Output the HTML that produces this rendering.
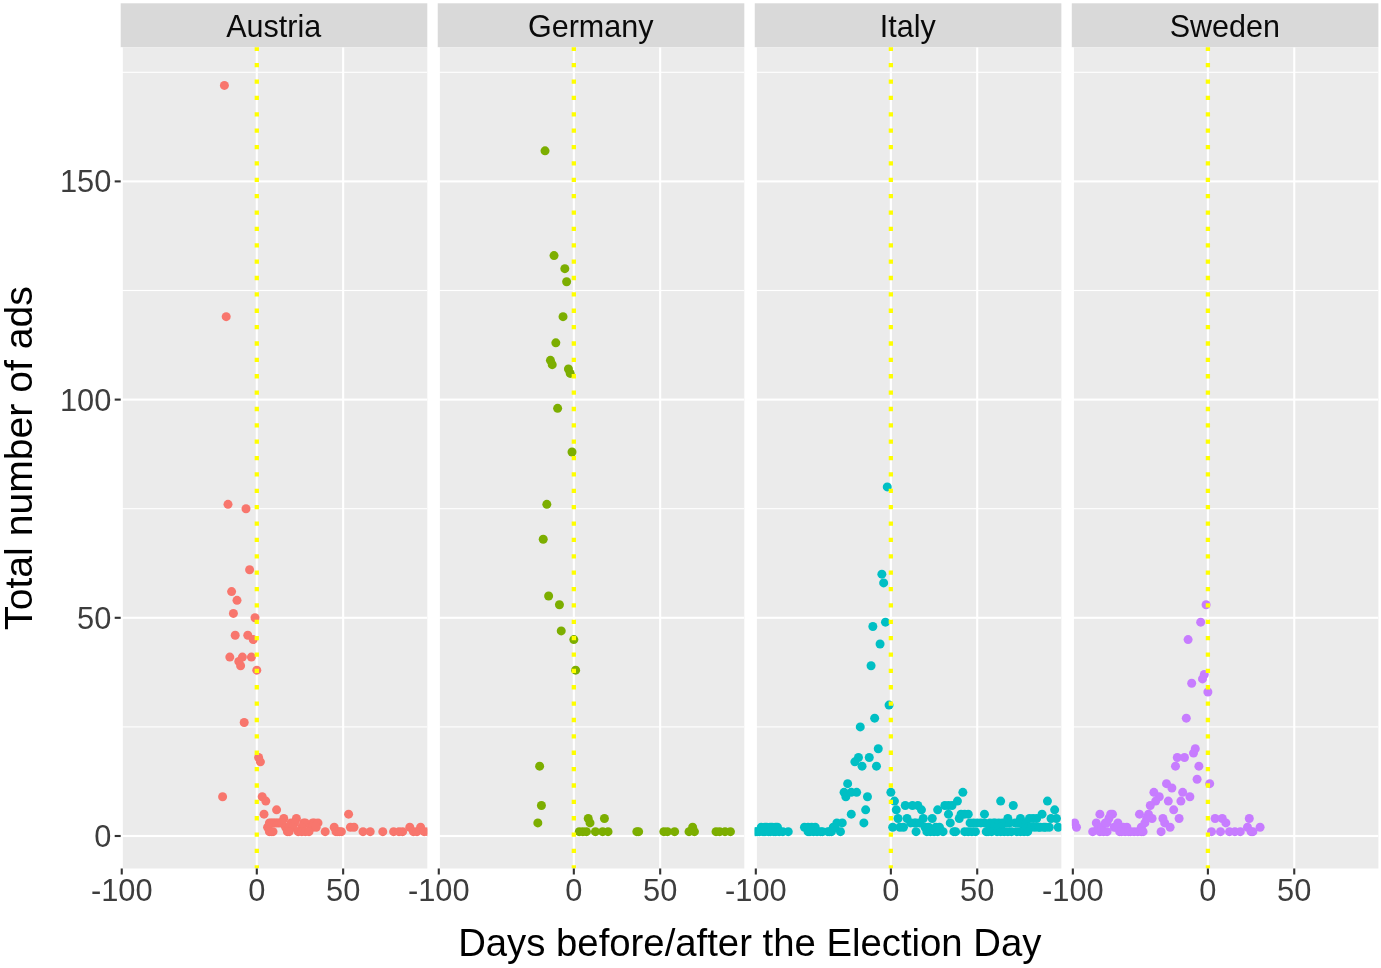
<!DOCTYPE html>
<html lang="en"><head><meta charset="utf-8"><title>Ads by days before/after the Election Day</title>
<style>html,body{margin:0;padding:0;background:#fff}body{width:1381px;height:968px;overflow:hidden}</style></head>
<body>
<svg width="1381" height="968" viewBox="0 0 1381 968" style="display:block">
<rect width="1381" height="968" fill="#fff"/>
<defs>
<clipPath id="c0"><rect x="120.70" y="47.3" width="306.6" height="821.20"/></clipPath>
<clipPath id="c1"><rect x="437.73" y="47.3" width="306.6" height="821.20"/></clipPath>
<clipPath id="c2"><rect x="754.76" y="47.3" width="306.6" height="821.20"/></clipPath>
<clipPath id="c3"><rect x="1071.79" y="47.3" width="306.6" height="821.20"/></clipPath>
</defs>
<rect x="120.70" y="3.3" width="306.6" height="44.00" fill="#D9D9D9"/>
<rect x="122.20" y="47.3" width="305.1" height="821.20" fill="#EBEBEB"/>
<g clip-path="url(#c0)">
<rect x="120.70" y="726.35" width="306.6" height="1.1" fill="#fff"/>
<rect x="120.70" y="508.15" width="306.6" height="1.1" fill="#fff"/>
<rect x="120.70" y="289.95" width="306.6" height="1.1" fill="#fff"/>
<rect x="120.70" y="71.75" width="306.6" height="1.1" fill="#fff"/>
<rect x="120.70" y="834.95" width="306.6" height="2.1" fill="#fff"/>
<rect x="120.70" y="616.75" width="306.6" height="2.1" fill="#fff"/>
<rect x="120.70" y="398.55" width="306.6" height="2.1" fill="#fff"/>
<rect x="120.70" y="180.35" width="306.6" height="2.1" fill="#fff"/>
<rect x="120.70" y="47.3" width="2.1" height="821.20" fill="#fff"/>
<rect x="255.75" y="47.3" width="2.1" height="821.20" fill="#fff"/>
<rect x="342.10" y="47.3" width="2.1" height="821.20" fill="#fff"/>
<g fill="#F8766D">
<circle cx="224.40" cy="85.39" r="4.5"/>
<circle cx="226.20" cy="316.68" r="4.5"/>
<circle cx="228.00" cy="504.34" r="4.5"/>
<circle cx="246.00" cy="508.70" r="4.5"/>
<circle cx="249.60" cy="569.80" r="4.5"/>
<circle cx="231.60" cy="591.62" r="4.5"/>
<circle cx="237.00" cy="600.34" r="4.5"/>
<circle cx="233.40" cy="613.44" r="4.5"/>
<circle cx="255.00" cy="617.80" r="4.5"/>
<circle cx="235.20" cy="635.26" r="4.5"/>
<circle cx="247.80" cy="635.26" r="4.5"/>
<circle cx="253.20" cy="639.62" r="4.5"/>
<circle cx="229.80" cy="657.08" r="4.5"/>
<circle cx="242.40" cy="657.08" r="4.5"/>
<circle cx="251.40" cy="657.08" r="4.5"/>
<circle cx="238.80" cy="661.44" r="4.5"/>
<circle cx="240.60" cy="665.80" r="4.5"/>
<circle cx="256.80" cy="670.17" r="4.5"/>
<circle cx="244.20" cy="722.54" r="4.5"/>
<circle cx="258.60" cy="757.45" r="4.5"/>
<circle cx="260.40" cy="761.81" r="4.5"/>
<circle cx="222.60" cy="796.72" r="4.5"/>
<circle cx="262.20" cy="796.72" r="4.5"/>
<circle cx="265.80" cy="801.09" r="4.5"/>
<circle cx="276.60" cy="809.82" r="4.5"/>
<circle cx="264.00" cy="814.18" r="4.5"/>
<circle cx="348.60" cy="814.18" r="4.5"/>
<circle cx="283.80" cy="818.54" r="4.5"/>
<circle cx="296.40" cy="818.54" r="4.5"/>
<circle cx="269.40" cy="822.91" r="4.5"/>
<circle cx="271.20" cy="822.91" r="4.5"/>
<circle cx="273.00" cy="822.91" r="4.5"/>
<circle cx="274.80" cy="822.91" r="4.5"/>
<circle cx="276.60" cy="822.91" r="4.5"/>
<circle cx="278.40" cy="822.91" r="4.5"/>
<circle cx="280.20" cy="822.91" r="4.5"/>
<circle cx="282.00" cy="822.91" r="4.5"/>
<circle cx="291.00" cy="822.91" r="4.5"/>
<circle cx="294.60" cy="822.91" r="4.5"/>
<circle cx="303.60" cy="822.91" r="4.5"/>
<circle cx="305.40" cy="822.91" r="4.5"/>
<circle cx="312.60" cy="822.91" r="4.5"/>
<circle cx="314.40" cy="822.91" r="4.5"/>
<circle cx="318.00" cy="822.91" r="4.5"/>
<circle cx="267.60" cy="827.27" r="4.5"/>
<circle cx="285.60" cy="827.27" r="4.5"/>
<circle cx="289.20" cy="827.27" r="4.5"/>
<circle cx="292.80" cy="827.27" r="4.5"/>
<circle cx="301.80" cy="827.27" r="4.5"/>
<circle cx="310.80" cy="827.27" r="4.5"/>
<circle cx="312.60" cy="827.27" r="4.5"/>
<circle cx="316.20" cy="827.27" r="4.5"/>
<circle cx="334.20" cy="827.27" r="4.5"/>
<circle cx="350.40" cy="827.27" r="4.5"/>
<circle cx="354.00" cy="827.27" r="4.5"/>
<circle cx="409.80" cy="827.27" r="4.5"/>
<circle cx="420.60" cy="827.27" r="4.5"/>
<circle cx="269.40" cy="831.64" r="4.5"/>
<circle cx="271.20" cy="831.64" r="4.5"/>
<circle cx="273.00" cy="831.64" r="4.5"/>
<circle cx="287.40" cy="831.64" r="4.5"/>
<circle cx="289.20" cy="831.64" r="4.5"/>
<circle cx="298.20" cy="831.64" r="4.5"/>
<circle cx="301.80" cy="831.64" r="4.5"/>
<circle cx="305.40" cy="831.64" r="4.5"/>
<circle cx="309.00" cy="831.64" r="4.5"/>
<circle cx="325.20" cy="831.64" r="4.5"/>
<circle cx="336.00" cy="831.64" r="4.5"/>
<circle cx="337.80" cy="831.64" r="4.5"/>
<circle cx="339.60" cy="831.64" r="4.5"/>
<circle cx="341.40" cy="831.64" r="4.5"/>
<circle cx="363.00" cy="831.64" r="4.5"/>
<circle cx="370.20" cy="831.64" r="4.5"/>
<circle cx="382.80" cy="831.64" r="4.5"/>
<circle cx="393.60" cy="831.64" r="4.5"/>
<circle cx="399.00" cy="831.64" r="4.5"/>
<circle cx="402.60" cy="831.64" r="4.5"/>
<circle cx="413.40" cy="831.64" r="4.5"/>
<circle cx="417.00" cy="831.64" r="4.5"/>
<circle cx="424.20" cy="831.64" r="4.5"/>
<circle cx="427.80" cy="831.64" r="4.5"/>
</g>
<line x1="256.80" y1="46.69" x2="256.80" y2="868.5" stroke="#FFFF00" stroke-width="4.3" stroke-dasharray="4.3 12.07"/>
</g>
<text x="273.70" y="36.8" text-anchor="middle" font-size="30.5" fill="#0a0a0a" font-family="Liberation Sans, Arial, Helvetica, sans-serif">Austria</text>
<rect x="120.70" y="868.5" width="2.1" height="6" fill="#333"/>
<text transform="translate(121.75,901) scale(1,1.026)" text-anchor="middle" font-size="30.8" fill="#3d3d3d" font-family="Liberation Sans, Arial, Helvetica, sans-serif">-100</text>
<rect x="255.75" y="868.5" width="2.1" height="6" fill="#333"/>
<text transform="translate(256.80,901) scale(1,1.026)" text-anchor="middle" font-size="30.8" fill="#3d3d3d" font-family="Liberation Sans, Arial, Helvetica, sans-serif">0</text>
<rect x="342.10" y="868.5" width="2.1" height="6" fill="#333"/>
<text transform="translate(343.15,901) scale(1,1.026)" text-anchor="middle" font-size="30.8" fill="#3d3d3d" font-family="Liberation Sans, Arial, Helvetica, sans-serif">50</text>
<rect x="437.73" y="3.3" width="306.6" height="44.00" fill="#D9D9D9"/>
<rect x="439.23" y="47.3" width="305.1" height="821.20" fill="#EBEBEB"/>
<g clip-path="url(#c1)">
<rect x="437.73" y="726.35" width="306.6" height="1.1" fill="#fff"/>
<rect x="437.73" y="508.15" width="306.6" height="1.1" fill="#fff"/>
<rect x="437.73" y="289.95" width="306.6" height="1.1" fill="#fff"/>
<rect x="437.73" y="71.75" width="306.6" height="1.1" fill="#fff"/>
<rect x="437.73" y="834.95" width="306.6" height="2.1" fill="#fff"/>
<rect x="437.73" y="616.75" width="306.6" height="2.1" fill="#fff"/>
<rect x="437.73" y="398.55" width="306.6" height="2.1" fill="#fff"/>
<rect x="437.73" y="180.35" width="306.6" height="2.1" fill="#fff"/>
<rect x="437.73" y="47.3" width="2.1" height="821.20" fill="#fff"/>
<rect x="572.78" y="47.3" width="2.1" height="821.20" fill="#fff"/>
<rect x="659.13" y="47.3" width="2.1" height="821.20" fill="#fff"/>
<g fill="#7CAE00">
<circle cx="545.03" cy="150.85" r="4.5"/>
<circle cx="554.03" cy="255.59" r="4.5"/>
<circle cx="564.83" cy="268.68" r="4.5"/>
<circle cx="566.63" cy="281.77" r="4.5"/>
<circle cx="563.03" cy="316.68" r="4.5"/>
<circle cx="555.83" cy="342.87" r="4.5"/>
<circle cx="550.43" cy="360.32" r="4.5"/>
<circle cx="552.23" cy="364.69" r="4.5"/>
<circle cx="568.43" cy="369.05" r="4.5"/>
<circle cx="570.23" cy="373.42" r="4.5"/>
<circle cx="557.63" cy="408.33" r="4.5"/>
<circle cx="572.03" cy="451.97" r="4.5"/>
<circle cx="546.83" cy="504.34" r="4.5"/>
<circle cx="543.23" cy="539.25" r="4.5"/>
<circle cx="548.63" cy="595.98" r="4.5"/>
<circle cx="559.43" cy="604.71" r="4.5"/>
<circle cx="561.23" cy="630.89" r="4.5"/>
<circle cx="573.83" cy="639.62" r="4.5"/>
<circle cx="575.63" cy="670.17" r="4.5"/>
<circle cx="539.63" cy="766.18" r="4.5"/>
<circle cx="541.43" cy="805.45" r="4.5"/>
<circle cx="537.83" cy="822.91" r="4.5"/>
<circle cx="588.23" cy="818.54" r="4.5"/>
<circle cx="590.03" cy="822.91" r="4.5"/>
<circle cx="604.43" cy="818.54" r="4.5"/>
<circle cx="692.63" cy="827.27" r="4.5"/>
<circle cx="579.23" cy="831.64" r="4.5"/>
<circle cx="582.83" cy="831.64" r="4.5"/>
<circle cx="586.43" cy="831.64" r="4.5"/>
<circle cx="595.43" cy="831.64" r="4.5"/>
<circle cx="602.63" cy="831.64" r="4.5"/>
<circle cx="608.03" cy="831.64" r="4.5"/>
<circle cx="636.83" cy="831.64" r="4.5"/>
<circle cx="638.63" cy="831.64" r="4.5"/>
<circle cx="663.83" cy="831.64" r="4.5"/>
<circle cx="667.43" cy="831.64" r="4.5"/>
<circle cx="674.63" cy="831.64" r="4.5"/>
<circle cx="689.03" cy="831.64" r="4.5"/>
<circle cx="694.43" cy="831.64" r="4.5"/>
<circle cx="716.03" cy="831.64" r="4.5"/>
<circle cx="719.63" cy="831.64" r="4.5"/>
<circle cx="725.03" cy="831.64" r="4.5"/>
<circle cx="730.43" cy="831.64" r="4.5"/>
</g>
<line x1="573.83" y1="46.69" x2="573.83" y2="868.5" stroke="#FFFF00" stroke-width="4.3" stroke-dasharray="4.3 12.07"/>
</g>
<text x="590.73" y="36.8" text-anchor="middle" font-size="30.5" fill="#0a0a0a" font-family="Liberation Sans, Arial, Helvetica, sans-serif">Germany</text>
<rect x="437.73" y="868.5" width="2.1" height="6" fill="#333"/>
<text transform="translate(438.78,901) scale(1,1.026)" text-anchor="middle" font-size="30.8" fill="#3d3d3d" font-family="Liberation Sans, Arial, Helvetica, sans-serif">-100</text>
<rect x="572.78" y="868.5" width="2.1" height="6" fill="#333"/>
<text transform="translate(573.83,901) scale(1,1.026)" text-anchor="middle" font-size="30.8" fill="#3d3d3d" font-family="Liberation Sans, Arial, Helvetica, sans-serif">0</text>
<rect x="659.13" y="868.5" width="2.1" height="6" fill="#333"/>
<text transform="translate(660.18,901) scale(1,1.026)" text-anchor="middle" font-size="30.8" fill="#3d3d3d" font-family="Liberation Sans, Arial, Helvetica, sans-serif">50</text>
<rect x="754.76" y="3.3" width="306.6" height="44.00" fill="#D9D9D9"/>
<rect x="756.26" y="47.3" width="305.1" height="821.20" fill="#EBEBEB"/>
<g clip-path="url(#c2)">
<rect x="754.76" y="726.35" width="306.6" height="1.1" fill="#fff"/>
<rect x="754.76" y="508.15" width="306.6" height="1.1" fill="#fff"/>
<rect x="754.76" y="289.95" width="306.6" height="1.1" fill="#fff"/>
<rect x="754.76" y="71.75" width="306.6" height="1.1" fill="#fff"/>
<rect x="754.76" y="834.95" width="306.6" height="2.1" fill="#fff"/>
<rect x="754.76" y="616.75" width="306.6" height="2.1" fill="#fff"/>
<rect x="754.76" y="398.55" width="306.6" height="2.1" fill="#fff"/>
<rect x="754.76" y="180.35" width="306.6" height="2.1" fill="#fff"/>
<rect x="754.76" y="47.3" width="2.1" height="821.20" fill="#fff"/>
<rect x="889.81" y="47.3" width="2.1" height="821.20" fill="#fff"/>
<rect x="976.16" y="47.3" width="2.1" height="821.20" fill="#fff"/>
<g fill="#00BFC4">
<circle cx="887.26" cy="486.88" r="4.5"/>
<circle cx="881.86" cy="574.16" r="4.5"/>
<circle cx="883.66" cy="582.89" r="4.5"/>
<circle cx="885.46" cy="622.16" r="4.5"/>
<circle cx="872.86" cy="626.53" r="4.5"/>
<circle cx="880.06" cy="643.98" r="4.5"/>
<circle cx="871.06" cy="665.80" r="4.5"/>
<circle cx="889.06" cy="705.08" r="4.5"/>
<circle cx="874.66" cy="718.17" r="4.5"/>
<circle cx="860.26" cy="726.90" r="4.5"/>
<circle cx="878.26" cy="748.72" r="4.5"/>
<circle cx="869.26" cy="757.45" r="4.5"/>
<circle cx="858.46" cy="757.45" r="4.5"/>
<circle cx="854.86" cy="761.81" r="4.5"/>
<circle cx="862.06" cy="766.18" r="4.5"/>
<circle cx="876.46" cy="766.18" r="4.5"/>
<circle cx="847.66" cy="783.63" r="4.5"/>
<circle cx="844.06" cy="792.36" r="4.5"/>
<circle cx="845.86" cy="796.72" r="4.5"/>
<circle cx="851.26" cy="792.36" r="4.5"/>
<circle cx="856.66" cy="792.36" r="4.5"/>
<circle cx="867.46" cy="796.72" r="4.5"/>
<circle cx="865.66" cy="809.82" r="4.5"/>
<circle cx="851.26" cy="814.18" r="4.5"/>
<circle cx="863.86" cy="822.91" r="4.5"/>
<circle cx="890.86" cy="792.36" r="4.5"/>
<circle cx="894.46" cy="801.09" r="4.5"/>
<circle cx="896.26" cy="809.82" r="4.5"/>
<circle cx="898.06" cy="818.54" r="4.5"/>
<circle cx="892.66" cy="827.27" r="4.5"/>
<circle cx="899.86" cy="827.27" r="4.5"/>
<circle cx="903.46" cy="827.27" r="4.5"/>
<circle cx="905.26" cy="805.45" r="4.5"/>
<circle cx="912.46" cy="805.45" r="4.5"/>
<circle cx="917.86" cy="805.45" r="4.5"/>
<circle cx="921.46" cy="809.82" r="4.5"/>
<circle cx="923.26" cy="818.54" r="4.5"/>
<circle cx="907.06" cy="818.54" r="4.5"/>
<circle cx="932.26" cy="818.54" r="4.5"/>
<circle cx="937.66" cy="809.82" r="4.5"/>
<circle cx="944.86" cy="805.45" r="4.5"/>
<circle cx="948.46" cy="805.45" r="4.5"/>
<circle cx="952.06" cy="805.45" r="4.5"/>
<circle cx="957.46" cy="801.09" r="4.5"/>
<circle cx="962.86" cy="792.36" r="4.5"/>
<circle cx="948.46" cy="814.18" r="4.5"/>
<circle cx="950.26" cy="822.91" r="4.5"/>
<circle cx="959.26" cy="818.54" r="4.5"/>
<circle cx="961.06" cy="814.18" r="4.5"/>
<circle cx="964.66" cy="814.18" r="4.5"/>
<circle cx="968.26" cy="814.18" r="4.5"/>
<circle cx="984.46" cy="814.18" r="4.5"/>
<circle cx="1000.66" cy="801.09" r="4.5"/>
<circle cx="1013.26" cy="805.45" r="4.5"/>
<circle cx="1047.46" cy="801.09" r="4.5"/>
<circle cx="1054.66" cy="809.82" r="4.5"/>
<circle cx="1042.06" cy="814.18" r="4.5"/>
<circle cx="1056.46" cy="818.54" r="4.5"/>
<circle cx="1051.06" cy="818.54" r="4.5"/>
<circle cx="1058.26" cy="827.27" r="4.5"/>
<circle cx="1007.86" cy="818.54" r="4.5"/>
<circle cx="1020.46" cy="818.54" r="4.5"/>
<circle cx="1029.46" cy="818.54" r="4.5"/>
<circle cx="1033.06" cy="818.54" r="4.5"/>
<circle cx="1036.66" cy="818.54" r="4.5"/>
<circle cx="910.66" cy="822.91" r="4.5"/>
<circle cx="914.26" cy="822.91" r="4.5"/>
<circle cx="916.06" cy="822.91" r="4.5"/>
<circle cx="919.66" cy="822.91" r="4.5"/>
<circle cx="970.06" cy="822.91" r="4.5"/>
<circle cx="973.66" cy="822.91" r="4.5"/>
<circle cx="977.26" cy="822.91" r="4.5"/>
<circle cx="980.86" cy="822.91" r="4.5"/>
<circle cx="984.46" cy="822.91" r="4.5"/>
<circle cx="989.86" cy="822.91" r="4.5"/>
<circle cx="993.46" cy="822.91" r="4.5"/>
<circle cx="995.26" cy="822.91" r="4.5"/>
<circle cx="998.86" cy="822.91" r="4.5"/>
<circle cx="1002.46" cy="822.91" r="4.5"/>
<circle cx="1006.06" cy="822.91" r="4.5"/>
<circle cx="1009.66" cy="822.91" r="4.5"/>
<circle cx="1015.06" cy="822.91" r="4.5"/>
<circle cx="1018.66" cy="822.91" r="4.5"/>
<circle cx="1022.26" cy="822.91" r="4.5"/>
<circle cx="1025.86" cy="822.91" r="4.5"/>
<circle cx="925.06" cy="827.27" r="4.5"/>
<circle cx="928.66" cy="827.27" r="4.5"/>
<circle cx="935.86" cy="827.27" r="4.5"/>
<circle cx="939.46" cy="827.27" r="4.5"/>
<circle cx="989.86" cy="827.27" r="4.5"/>
<circle cx="993.46" cy="827.27" r="4.5"/>
<circle cx="997.06" cy="827.27" r="4.5"/>
<circle cx="1000.66" cy="827.27" r="4.5"/>
<circle cx="1024.06" cy="827.27" r="4.5"/>
<circle cx="1027.66" cy="827.27" r="4.5"/>
<circle cx="1031.26" cy="827.27" r="4.5"/>
<circle cx="1034.86" cy="827.27" r="4.5"/>
<circle cx="1038.46" cy="827.27" r="4.5"/>
<circle cx="1040.26" cy="827.27" r="4.5"/>
<circle cx="1043.86" cy="827.27" r="4.5"/>
<circle cx="1045.66" cy="827.27" r="4.5"/>
<circle cx="1049.26" cy="827.27" r="4.5"/>
<circle cx="916.06" cy="831.64" r="4.5"/>
<circle cx="926.86" cy="831.64" r="4.5"/>
<circle cx="930.46" cy="831.64" r="4.5"/>
<circle cx="934.06" cy="831.64" r="4.5"/>
<circle cx="937.66" cy="831.64" r="4.5"/>
<circle cx="943.06" cy="831.64" r="4.5"/>
<circle cx="953.86" cy="831.64" r="4.5"/>
<circle cx="955.66" cy="831.64" r="4.5"/>
<circle cx="964.66" cy="831.64" r="4.5"/>
<circle cx="968.26" cy="831.64" r="4.5"/>
<circle cx="971.86" cy="831.64" r="4.5"/>
<circle cx="975.46" cy="831.64" r="4.5"/>
<circle cx="986.26" cy="831.64" r="4.5"/>
<circle cx="988.06" cy="831.64" r="4.5"/>
<circle cx="991.66" cy="831.64" r="4.5"/>
<circle cx="997.06" cy="831.64" r="4.5"/>
<circle cx="1000.66" cy="831.64" r="4.5"/>
<circle cx="1004.26" cy="831.64" r="4.5"/>
<circle cx="1007.86" cy="831.64" r="4.5"/>
<circle cx="1011.46" cy="831.64" r="4.5"/>
<circle cx="1016.86" cy="831.64" r="4.5"/>
<circle cx="1020.46" cy="831.64" r="4.5"/>
<circle cx="1024.06" cy="831.64" r="4.5"/>
<circle cx="1027.66" cy="831.64" r="4.5"/>
<circle cx="761.26" cy="827.27" r="4.5"/>
<circle cx="764.86" cy="827.27" r="4.5"/>
<circle cx="766.66" cy="827.27" r="4.5"/>
<circle cx="770.26" cy="827.27" r="4.5"/>
<circle cx="772.06" cy="827.27" r="4.5"/>
<circle cx="775.66" cy="827.27" r="4.5"/>
<circle cx="777.46" cy="827.27" r="4.5"/>
<circle cx="804.46" cy="827.27" r="4.5"/>
<circle cx="808.06" cy="827.27" r="4.5"/>
<circle cx="811.66" cy="827.27" r="4.5"/>
<circle cx="815.26" cy="827.27" r="4.5"/>
<circle cx="833.26" cy="827.27" r="4.5"/>
<circle cx="835.06" cy="827.27" r="4.5"/>
<circle cx="754.06" cy="831.64" r="4.5"/>
<circle cx="755.86" cy="831.64" r="4.5"/>
<circle cx="757.66" cy="831.64" r="4.5"/>
<circle cx="759.46" cy="831.64" r="4.5"/>
<circle cx="763.06" cy="831.64" r="4.5"/>
<circle cx="764.86" cy="831.64" r="4.5"/>
<circle cx="768.46" cy="831.64" r="4.5"/>
<circle cx="770.26" cy="831.64" r="4.5"/>
<circle cx="773.86" cy="831.64" r="4.5"/>
<circle cx="775.66" cy="831.64" r="4.5"/>
<circle cx="779.26" cy="831.64" r="4.5"/>
<circle cx="782.86" cy="831.64" r="4.5"/>
<circle cx="788.26" cy="831.64" r="4.5"/>
<circle cx="808.06" cy="831.64" r="4.5"/>
<circle cx="809.86" cy="831.64" r="4.5"/>
<circle cx="813.46" cy="831.64" r="4.5"/>
<circle cx="817.06" cy="831.64" r="4.5"/>
<circle cx="820.66" cy="831.64" r="4.5"/>
<circle cx="822.46" cy="831.64" r="4.5"/>
<circle cx="827.86" cy="831.64" r="4.5"/>
<circle cx="829.66" cy="831.64" r="4.5"/>
<circle cx="831.46" cy="831.64" r="4.5"/>
<circle cx="840.46" cy="831.64" r="4.5"/>
<circle cx="836.86" cy="822.91" r="4.5"/>
<circle cx="842.26" cy="822.91" r="4.5"/>
</g>
<line x1="890.86" y1="46.69" x2="890.86" y2="868.5" stroke="#FFFF00" stroke-width="4.3" stroke-dasharray="4.3 12.07"/>
</g>
<text x="907.76" y="36.8" text-anchor="middle" font-size="30.5" fill="#0a0a0a" font-family="Liberation Sans, Arial, Helvetica, sans-serif">Italy</text>
<rect x="754.76" y="868.5" width="2.1" height="6" fill="#333"/>
<text transform="translate(755.81,901) scale(1,1.026)" text-anchor="middle" font-size="30.8" fill="#3d3d3d" font-family="Liberation Sans, Arial, Helvetica, sans-serif">-100</text>
<rect x="889.81" y="868.5" width="2.1" height="6" fill="#333"/>
<text transform="translate(890.86,901) scale(1,1.026)" text-anchor="middle" font-size="30.8" fill="#3d3d3d" font-family="Liberation Sans, Arial, Helvetica, sans-serif">0</text>
<rect x="976.16" y="868.5" width="2.1" height="6" fill="#333"/>
<text transform="translate(977.21,901) scale(1,1.026)" text-anchor="middle" font-size="30.8" fill="#3d3d3d" font-family="Liberation Sans, Arial, Helvetica, sans-serif">50</text>
<rect x="1071.79" y="3.3" width="306.6" height="44.00" fill="#D9D9D9"/>
<rect x="1073.29" y="47.3" width="305.1" height="821.20" fill="#EBEBEB"/>
<g clip-path="url(#c3)">
<rect x="1071.79" y="726.35" width="306.6" height="1.1" fill="#fff"/>
<rect x="1071.79" y="508.15" width="306.6" height="1.1" fill="#fff"/>
<rect x="1071.79" y="289.95" width="306.6" height="1.1" fill="#fff"/>
<rect x="1071.79" y="71.75" width="306.6" height="1.1" fill="#fff"/>
<rect x="1071.79" y="834.95" width="306.6" height="2.1" fill="#fff"/>
<rect x="1071.79" y="616.75" width="306.6" height="2.1" fill="#fff"/>
<rect x="1071.79" y="398.55" width="306.6" height="2.1" fill="#fff"/>
<rect x="1071.79" y="180.35" width="306.6" height="2.1" fill="#fff"/>
<rect x="1071.79" y="47.3" width="2.1" height="821.20" fill="#fff"/>
<rect x="1206.84" y="47.3" width="2.1" height="821.20" fill="#fff"/>
<rect x="1293.19" y="47.3" width="2.1" height="821.20" fill="#fff"/>
<g fill="#C77CFF">
<circle cx="1206.09" cy="604.71" r="4.5"/>
<circle cx="1200.69" cy="622.16" r="4.5"/>
<circle cx="1188.09" cy="639.62" r="4.5"/>
<circle cx="1204.29" cy="674.53" r="4.5"/>
<circle cx="1202.49" cy="678.90" r="4.5"/>
<circle cx="1191.69" cy="683.26" r="4.5"/>
<circle cx="1207.89" cy="691.99" r="4.5"/>
<circle cx="1186.29" cy="718.17" r="4.5"/>
<circle cx="1195.29" cy="748.72" r="4.5"/>
<circle cx="1193.49" cy="753.08" r="4.5"/>
<circle cx="1177.29" cy="757.45" r="4.5"/>
<circle cx="1184.49" cy="757.45" r="4.5"/>
<circle cx="1175.49" cy="766.18" r="4.5"/>
<circle cx="1198.89" cy="766.18" r="4.5"/>
<circle cx="1197.09" cy="779.27" r="4.5"/>
<circle cx="1209.69" cy="783.63" r="4.5"/>
<circle cx="1166.49" cy="783.63" r="4.5"/>
<circle cx="1171.89" cy="788.00" r="4.5"/>
<circle cx="1153.89" cy="792.36" r="4.5"/>
<circle cx="1182.69" cy="792.36" r="4.5"/>
<circle cx="1159.29" cy="796.72" r="4.5"/>
<circle cx="1189.89" cy="796.72" r="4.5"/>
<circle cx="1168.29" cy="801.09" r="4.5"/>
<circle cx="1180.89" cy="801.09" r="4.5"/>
<circle cx="1155.69" cy="801.09" r="4.5"/>
<circle cx="1150.29" cy="805.45" r="4.5"/>
<circle cx="1173.69" cy="809.82" r="4.5"/>
<circle cx="1139.49" cy="814.18" r="4.5"/>
<circle cx="1148.49" cy="814.18" r="4.5"/>
<circle cx="1099.89" cy="814.18" r="4.5"/>
<circle cx="1110.69" cy="814.18" r="4.5"/>
<circle cx="1112.49" cy="814.18" r="4.5"/>
<circle cx="1179.09" cy="818.54" r="4.5"/>
<circle cx="1162.89" cy="818.54" r="4.5"/>
<circle cx="1152.09" cy="818.54" r="4.5"/>
<circle cx="1164.69" cy="822.91" r="4.5"/>
<circle cx="1170.09" cy="827.27" r="4.5"/>
<circle cx="1161.09" cy="831.64" r="4.5"/>
<circle cx="1215.09" cy="818.54" r="4.5"/>
<circle cx="1211.49" cy="831.64" r="4.5"/>
<circle cx="1074.69" cy="822.91" r="4.5"/>
<circle cx="1076.49" cy="827.27" r="4.5"/>
<circle cx="1092.69" cy="831.64" r="4.5"/>
<circle cx="1096.29" cy="822.91" r="4.5"/>
<circle cx="1099.89" cy="831.64" r="4.5"/>
<circle cx="1103.49" cy="831.64" r="4.5"/>
<circle cx="1107.09" cy="831.64" r="4.5"/>
<circle cx="1098.09" cy="827.27" r="4.5"/>
<circle cx="1101.69" cy="827.27" r="4.5"/>
<circle cx="1108.89" cy="818.54" r="4.5"/>
<circle cx="1105.29" cy="822.91" r="4.5"/>
<circle cx="1107.09" cy="822.91" r="4.5"/>
<circle cx="1117.89" cy="822.91" r="4.5"/>
<circle cx="1114.29" cy="827.27" r="4.5"/>
<circle cx="1116.09" cy="827.27" r="4.5"/>
<circle cx="1126.89" cy="827.27" r="4.5"/>
<circle cx="1123.29" cy="827.27" r="4.5"/>
<circle cx="1141.29" cy="827.27" r="4.5"/>
<circle cx="1144.89" cy="822.91" r="4.5"/>
<circle cx="1146.69" cy="818.54" r="4.5"/>
<circle cx="1222.29" cy="818.54" r="4.5"/>
<circle cx="1225.89" cy="822.91" r="4.5"/>
<circle cx="1249.29" cy="818.54" r="4.5"/>
<circle cx="1260.09" cy="827.27" r="4.5"/>
<circle cx="1247.49" cy="827.27" r="4.5"/>
<circle cx="1119.69" cy="831.64" r="4.5"/>
<circle cx="1121.49" cy="831.64" r="4.5"/>
<circle cx="1125.09" cy="831.64" r="4.5"/>
<circle cx="1128.69" cy="831.64" r="4.5"/>
<circle cx="1130.49" cy="831.64" r="4.5"/>
<circle cx="1134.09" cy="831.64" r="4.5"/>
<circle cx="1137.69" cy="831.64" r="4.5"/>
<circle cx="1141.29" cy="831.64" r="4.5"/>
<circle cx="1143.09" cy="831.64" r="4.5"/>
<circle cx="1220.49" cy="831.64" r="4.5"/>
<circle cx="1229.49" cy="831.64" r="4.5"/>
<circle cx="1234.89" cy="831.64" r="4.5"/>
<circle cx="1240.29" cy="831.64" r="4.5"/>
<circle cx="1251.09" cy="831.64" r="4.5"/>
<circle cx="1252.89" cy="831.64" r="4.5"/>
</g>
<line x1="1207.89" y1="46.69" x2="1207.89" y2="868.5" stroke="#FFFF00" stroke-width="4.3" stroke-dasharray="4.3 12.07"/>
</g>
<text x="1224.79" y="36.8" text-anchor="middle" font-size="30.5" fill="#0a0a0a" font-family="Liberation Sans, Arial, Helvetica, sans-serif">Sweden</text>
<rect x="1071.79" y="868.5" width="2.1" height="6" fill="#333"/>
<text transform="translate(1072.84,901) scale(1,1.026)" text-anchor="middle" font-size="30.8" fill="#3d3d3d" font-family="Liberation Sans, Arial, Helvetica, sans-serif">-100</text>
<rect x="1206.84" y="868.5" width="2.1" height="6" fill="#333"/>
<text transform="translate(1207.89,901) scale(1,1.026)" text-anchor="middle" font-size="30.8" fill="#3d3d3d" font-family="Liberation Sans, Arial, Helvetica, sans-serif">0</text>
<rect x="1293.19" y="868.5" width="2.1" height="6" fill="#333"/>
<text transform="translate(1294.24,901) scale(1,1.026)" text-anchor="middle" font-size="30.8" fill="#3d3d3d" font-family="Liberation Sans, Arial, Helvetica, sans-serif">50</text>
<rect x="114.7" y="834.95" width="6" height="2.1" fill="#333"/>
<text transform="translate(111.3,846.90) scale(1,1.026)" text-anchor="end" font-size="30.8" fill="#3d3d3d" font-family="Liberation Sans, Arial, Helvetica, sans-serif">0</text>
<rect x="114.7" y="616.75" width="6" height="2.1" fill="#333"/>
<text transform="translate(111.3,628.70) scale(1,1.026)" text-anchor="end" font-size="30.8" fill="#3d3d3d" font-family="Liberation Sans, Arial, Helvetica, sans-serif">50</text>
<rect x="114.7" y="398.55" width="6" height="2.1" fill="#333"/>
<text transform="translate(111.3,410.50) scale(1,1.026)" text-anchor="end" font-size="30.8" fill="#3d3d3d" font-family="Liberation Sans, Arial, Helvetica, sans-serif">100</text>
<rect x="114.7" y="180.35" width="6" height="2.1" fill="#333"/>
<text transform="translate(111.3,192.30) scale(1,1.026)" text-anchor="end" font-size="30.8" fill="#3d3d3d" font-family="Liberation Sans, Arial, Helvetica, sans-serif">150</text>
<text x="749.8" y="955.6" text-anchor="middle" font-size="38.3" fill="#000" font-family="Liberation Sans, Arial, Helvetica, sans-serif">Days before/after the Election Day</text>
<text transform="translate(32.2,458) rotate(-90)" text-anchor="middle" font-size="39.15" fill="#000" font-family="Liberation Sans, Arial, Helvetica, sans-serif">Total number of ads</text>
</svg>
</body></html>
